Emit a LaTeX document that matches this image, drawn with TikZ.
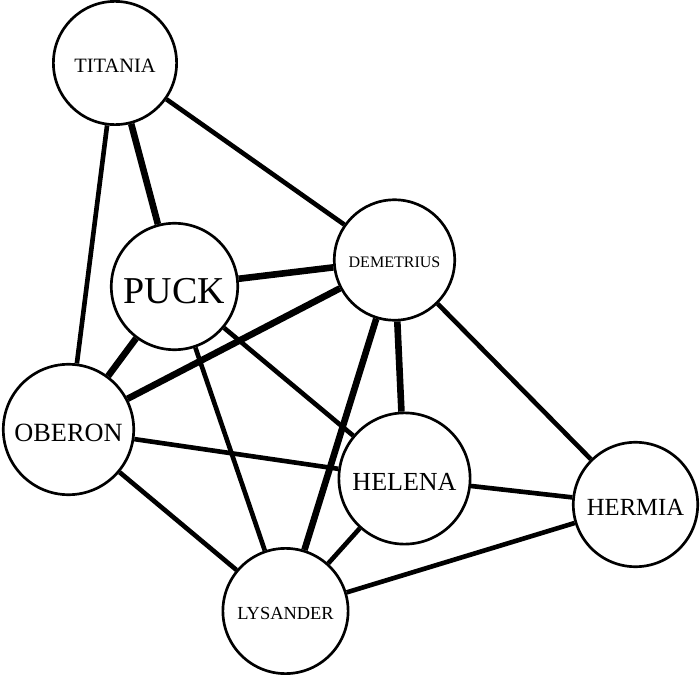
\documentclass[tikz,border=0pt]{standalone}
\usepackage{fontspec}
\setmainfont{Liberation Serif}
\usepackage{tikz}
\usetikzlibrary{positioning}
\tikzset{
  rolenode/.style={circle, draw=black, fill=white, line width=1.9pt, inner sep=0pt,
    align=center, text depth=0pt},
  bond/.style={black, line width=3.3pt},
  strongbond/.style={black, line width=4.7pt}
}

\begin{document}
\begin{tikzpicture}[x=0.025cm, y=-0.025cm]
  \useasboundingbox (0,0) rectangle (700,677);
  % characters
  \node[rolenode, minimum size=3.08cm, text height=13.2pt, font=\fontsize{14.5}{16}\selectfont] (titania) at (115,63) {TITANIA};
  \node[rolenode, minimum size=3.16cm, text height=24.6pt, font=\fontsize{27}{30}\selectfont] (puck) at (174.5,286.5) {PUCK};
  \node[rolenode, minimum size=3.01cm, text height=10.4pt, font=\fontsize{11.4}{13}\selectfont] (demetrius) at (394.5,260) {DEMETRIUS};
  \node[rolenode, minimum size=3.26cm, text height=17pt, font=\fontsize{18.7}{21}\selectfont] (oberon) at (68.5,429.5) {OBERON};
  \node[rolenode, minimum size=3.28cm, text height=16.8pt, font=\fontsize{18.5}{21}\selectfont] (helena) at (404.5,478.5) {HELENA};
  \node[rolenode, minimum size=3.11cm, text height=15.9pt, font=\fontsize{17.5}{20}\selectfont] (hermia) at (635.5,504.5) {HERMIA};
  \node[rolenode, minimum size=3.13cm, text height=11.9pt, font=\fontsize{13.1}{15}\selectfont] (lysander) at (285.5,611) {LYSANDER};
  % ties
  \draw[strongbond] (titania) -- (puck);
  \draw[bond] (titania) -- (oberon);
  \draw[bond] (titania) -- (demetrius);
  \draw[strongbond] (puck) -- (demetrius);
  \draw[strongbond] (puck) -- (oberon);
  \draw[bond] (puck) -- (helena);
  \draw[bond] (puck) -- (lysander);
  \draw[strongbond] (demetrius) -- (oberon);
  \draw[strongbond] (demetrius) -- (helena);
  \draw[strongbond] (demetrius) -- (lysander);
  \draw[bond] (demetrius) -- (hermia);
  \draw[bond] (oberon) -- (helena);
  \draw[bond] (oberon) -- (lysander);
  \draw[bond] (helena) -- (hermia);
  \draw[bond] (helena) -- (lysander);
  \draw[bond] (hermia) -- (lysander);
\end{tikzpicture}
\end{document}
